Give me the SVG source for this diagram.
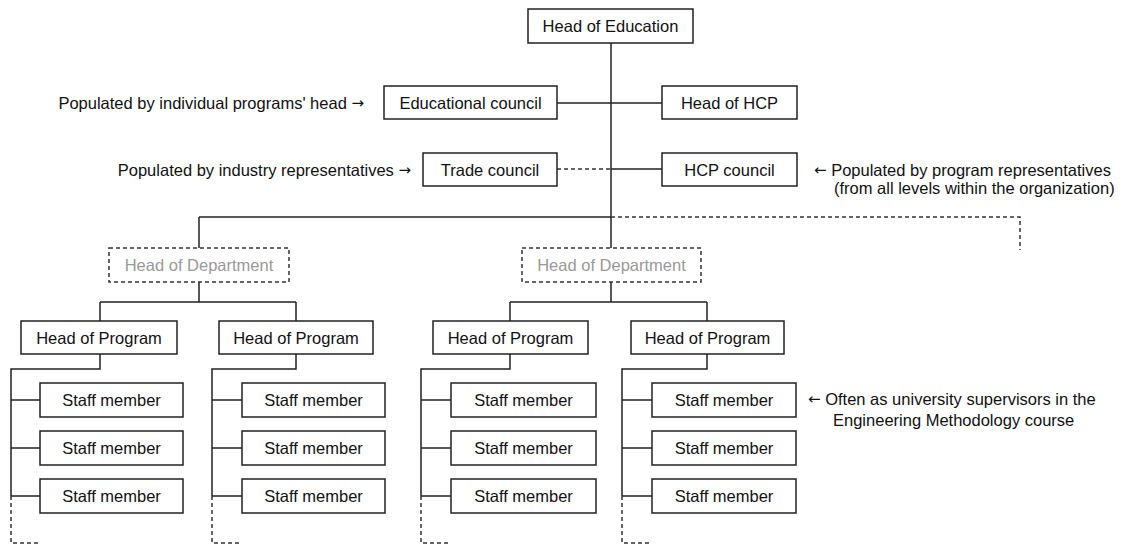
<svg xmlns="http://www.w3.org/2000/svg" width="1123" height="544" viewBox="0 0 1123 544">
<style>
.box{fill:#fff;stroke:#222;stroke-width:1.5}
.dbox{fill:#fff;stroke:#333;stroke-width:1.5;stroke-dasharray:4 3}
.t{font-family:"Liberation Sans",Arial,sans-serif;font-size:16.5px;fill:#111;text-anchor:middle;dominant-baseline:central}
.tg{fill:#999}
.lbl{font-family:"Liberation Sans",Arial,sans-serif;font-size:16.5px;fill:#111;dominant-baseline:central}
.ar{font-family:"DejaVu Sans",sans-serif;font-size:15px}
.ln{fill:none;stroke:#222;stroke-width:1.5}
.dl{fill:none;stroke:#333;stroke-width:1.5;stroke-dasharray:4 3}
</style>
<rect width="1123" height="544" fill="#fff"/>
<g id="connectors">
<path class="ln" d="M611 43V248"/>
<path class="ln" d="M557 103H662"/>
<path class="dl" d="M557 169H611"/>
<path class="ln" d="M611 169H662"/>
<path class="ln" d="M199 217H611"/>
<path class="dl" d="M611 217H1020V250"/>
<path class="ln" d="M199 217V248"/>
<path class="ln" d="M199 282V302M100 302H296M100 302V321M296 302V321"/>
<path class="ln" d="M611 282V302M510 302H707M510 302V321M707 302V321"/>
<path class="ln" d="M100 354V369H11V496M11 400H40M11 448H40M11 496H40"/>
<path class="dl" d="M11 496V543H40"/>
<path class="ln" d="M296 354V369H212V496M212 400H242M212 448H242M212 496H242"/>
<path class="dl" d="M212 496V543H242"/>
<path class="ln" d="M510 354V369H421V496M421 400H451M421 448H451M421 496H451"/>
<path class="dl" d="M421 496V543H451"/>
<path class="ln" d="M707 354V369H622V496M622 400H652M622 448H652M622 496H652"/>
<path class="dl" d="M622 496V543H652"/>
</g>
<g id="head-education"><rect class="box" x="528" y="9" width="165" height="34"/><text class="t" x="610.5" y="26">Head of Education</text></g>
<g id="educational-council"><rect class="box" x="384" y="86" width="173" height="33"/><text class="t" x="470.5" y="102.5">Educational council</text></g>
<g id="head-hcp"><rect class="box" x="662" y="86" width="135" height="33"/><text class="t" x="729.5" y="102.5">Head of HCP</text></g>
<g id="trade-council"><rect class="box" x="423" y="153" width="134" height="33"/><text class="t" x="490" y="169.5">Trade council</text></g>
<g id="hcp-council"><rect class="box" x="662" y="153" width="135" height="33"/><text class="t" x="729.5" y="169.5">HCP council</text></g>
<g id="hod-1"><rect class="dbox" x="109" y="248" width="180" height="34"/><text class="t tg" x="199" y="265">Head of Department</text></g>
<g id="hod-2"><rect class="dbox" x="522" y="248" width="179" height="34"/><text class="t tg" x="611.5" y="265">Head of Department</text></g>
<g id="hop-1"><rect class="box" x="21" y="321" width="156" height="33"/><text class="t" x="99" y="337.5">Head of Program</text></g>
<g id="hop-2"><rect class="box" x="219" y="321" width="154" height="33"/><text class="t" x="296" y="337.5">Head of Program</text></g>
<g id="hop-3"><rect class="box" x="433" y="321" width="155" height="33"/><text class="t" x="510.5" y="337.5">Head of Program</text></g>
<g id="hop-4"><rect class="box" x="631" y="321" width="153" height="33"/><text class="t" x="707.5" y="337.5">Head of Program</text></g>
<g id="staff-1-1"><rect class="box" x="40" y="383" width="143" height="34"/><text class="t" x="111.5" y="400">Staff member</text></g>
<g id="staff-1-2"><rect class="box" x="40" y="431" width="143" height="34"/><text class="t" x="111.5" y="448">Staff member</text></g>
<g id="staff-1-3"><rect class="box" x="40" y="479" width="143" height="34"/><text class="t" x="111.5" y="496">Staff member</text></g>
<g id="staff-2-1"><rect class="box" x="242" y="383" width="143" height="34"/><text class="t" x="313.5" y="400">Staff member</text></g>
<g id="staff-2-2"><rect class="box" x="242" y="431" width="143" height="34"/><text class="t" x="313.5" y="448">Staff member</text></g>
<g id="staff-2-3"><rect class="box" x="242" y="479" width="143" height="34"/><text class="t" x="313.5" y="496">Staff member</text></g>
<g id="staff-3-1"><rect class="box" x="451" y="383" width="145" height="34"/><text class="t" x="523.5" y="400">Staff member</text></g>
<g id="staff-3-2"><rect class="box" x="451" y="431" width="145" height="34"/><text class="t" x="523.5" y="448">Staff member</text></g>
<g id="staff-3-3"><rect class="box" x="451" y="479" width="145" height="34"/><text class="t" x="523.5" y="496">Staff member</text></g>
<g id="staff-4-1"><rect class="box" x="652" y="383" width="144" height="34"/><text class="t" x="724" y="400">Staff member</text></g>
<g id="staff-4-2"><rect class="box" x="652" y="431" width="144" height="34"/><text class="t" x="724" y="448">Staff member</text></g>
<g id="staff-4-3"><rect class="box" x="652" y="479" width="144" height="34"/><text class="t" x="724" y="496">Staff member</text></g>
<g id="labels">
<text class="lbl" x="364" y="102.5" text-anchor="end">Populated by individual programs' head <tspan class="ar">→</tspan></text>
<text class="lbl" x="411" y="169.5" text-anchor="end">Populated by industry representatives <tspan class="ar">→</tspan></text>
<text class="lbl" x="814" y="169.5"><tspan class="ar">←</tspan> Populated by program representatives</text>
<text class="lbl" x="834" y="188">(from all levels within the organization)</text>
<text class="lbl" x="808" y="399"><tspan class="ar">←</tspan> Often as university supervisors in the</text>
<text class="lbl" x="833" y="420">Engineering Methodology course</text>
</g>
</svg>
